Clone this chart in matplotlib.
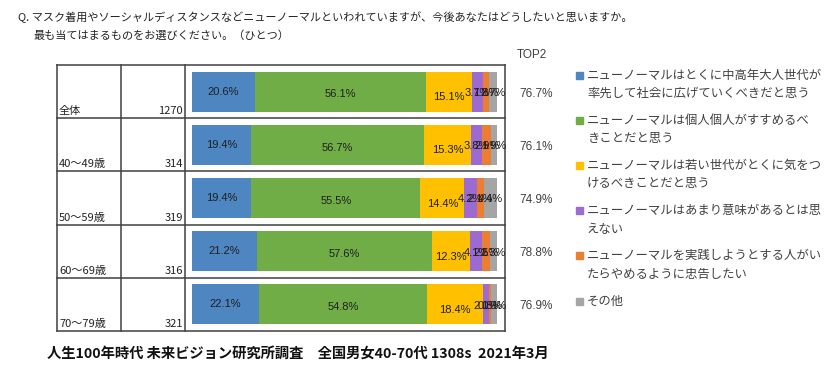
import numpy as np
import matplotlib.pyplot as plt
from matplotlib.patches import Rectangle

plt.rcParams['font.family'] = ['Noto Sans CJK JP', 'DejaVu Sans']

# ----- DATA -----
groups = ['全体', '40～49歳', '50～59歳', '60～69歳', '70～79歳']
n_counts = [1270, 314, 319, 316, 321]
s_elder = [20.6, 19.4, 19.4, 21.2, 22.1]
s_self = [56.1, 56.7, 55.5, 57.6, 54.8]
s_young = [15.1, 15.3, 14.4, 12.3, 18.4]
s_nomean = [3.7, 3.8, 4.2, 4.1, 2.0]
s_warn = [1.8, 2.9, 2.1, 2.5, 0.8]
s_other = [2.7, 1.9, 4.4, 2.3, 1.9]
top2 = [76.7, 76.1, 74.9, 78.8, 76.9]

legend_labels = [
    'ニューノーマルはとくに中高年大人世代が\n率先して社会に広げていくべきだと思う',
    'ニューノーマルは個人個人がすすめるべ\nきことだと思う',
    'ニューノーマルは若い世代がとくに気をつ\nけるべきことだと思う',
    'ニューノーマルはあまり意味があるとは思\nえない',
    'ニューノーマルを実践しようとする人がい\nたらやめるように忠告したい',
    'その他',
]
colors = ['#4E86C1', '#70AD47', '#FFC000', '#9B6BD2', '#ED7D31', '#A5A5A5']

title1 = 'Q. マスク着用やソーシャルディスタンスなどニューノーマルといわれていますが、今後あなたはどうしたいと思いますか。'
title2 = '最も当てはまるものをお選びください。（ひとつ）'
footer = '人生100年時代 未来ビジョン研究所調査　全国男女40-70代 1308s  2021年3月'

series = [s_elder, s_self, s_young, s_nomean, s_warn, s_other]

W, H = 840, 371
fig = plt.figure(figsize=(W / 100, H / 100), dpi=100)

# overlay in pixel coords for table grid and text
ov = fig.add_axes([0, 0, 1, 1])
ov.set_xlim(0, W)
ov.set_ylim(H, 0)
ov.axis('off')

tbl_top, tbl_bot = 65, 331
row_h = (tbl_bot - tbl_top) / len(groups)
col_x = [57, 121, 185, 505]
lc = '#404040'

# table grid
for x in col_x:
    ov.plot([x, x], [tbl_top, tbl_bot], color=lc, lw=1.1)
for i in range(len(groups) + 1):
    y = tbl_top + i * row_h
    ov.plot([col_x[0], col_x[-1]], [y, y], color=lc, lw=1.1)

for i, (g, n) in enumerate(zip(groups, n_counts)):
    yb = tbl_top + (i + 1) * row_h - 2
    ov.text(col_x[0] + 2, yb, g, fontsize=8, va='bottom', ha='left', color='#222222')
    ov.text(col_x[2] - 2, yb, str(n), fontsize=8, va='bottom', ha='right', color='#222222')
    ov.text(519, tbl_top + (i + 0.5) * row_h + 2, f'{top2[i]:.1f}%', fontsize=8.5,
            va='center', ha='left', color='#404040', family='Liberation Sans')

ov.text(517, 55, 'TOP2', fontsize=8.5, va='center', ha='left', color='#404040',
        family='Liberation Sans')

# titles
ov.text(18, 17, title1, fontsize=8, va='center', ha='left', color='#222222')
ov.text(33, 36, title2, fontsize=8, va='center', ha='left', color='#222222')
ov.text(47, 354, footer, fontsize=10.3, va='center', ha='left', color='#111111',
        fontweight='bold')

# legend
for k, lab in enumerate(legend_labels):
    y0 = 75 + 45.2 * k
    ov.add_patch(Rectangle((576, y0 - 3.5), 7, 7, color=colors[k]))
    for j, line in enumerate(lab.split('\n')):
        ov.text(587, y0 + 18.5 * j, line, fontsize=8.9, va='center', ha='left', color='#404040')

# bars
ax = fig.add_axes([192 / W, 1 - tbl_bot / H, 305 / W, (tbl_bot - tbl_top) / H])
ax.set_xlim(0, 100)
ax.set_ylim(len(groups) - 0.5, -0.5)
ax.axis('off')

y = np.arange(len(groups))
left = np.zeros(len(groups))
label_dy = [0, -2, -4, -1, -1, -1]
for k, vals in enumerate(series):
    vals = np.array(vals)
    ax.barh(y, vals, left=left, height=0.755, color=colors[k], linewidth=0)
    for i, v in enumerate(vals):
        ax.annotate(f'{v:.1f}%', (left[i] + v / 2, y[i]), xytext=(0, label_dy[k]),
                    textcoords='offset points', ha='center', va='center',
                    fontsize=8, color='#1F1F1F', family='Liberation Sans')
    left += vals

fig.savefig('out.png', dpi=100)
